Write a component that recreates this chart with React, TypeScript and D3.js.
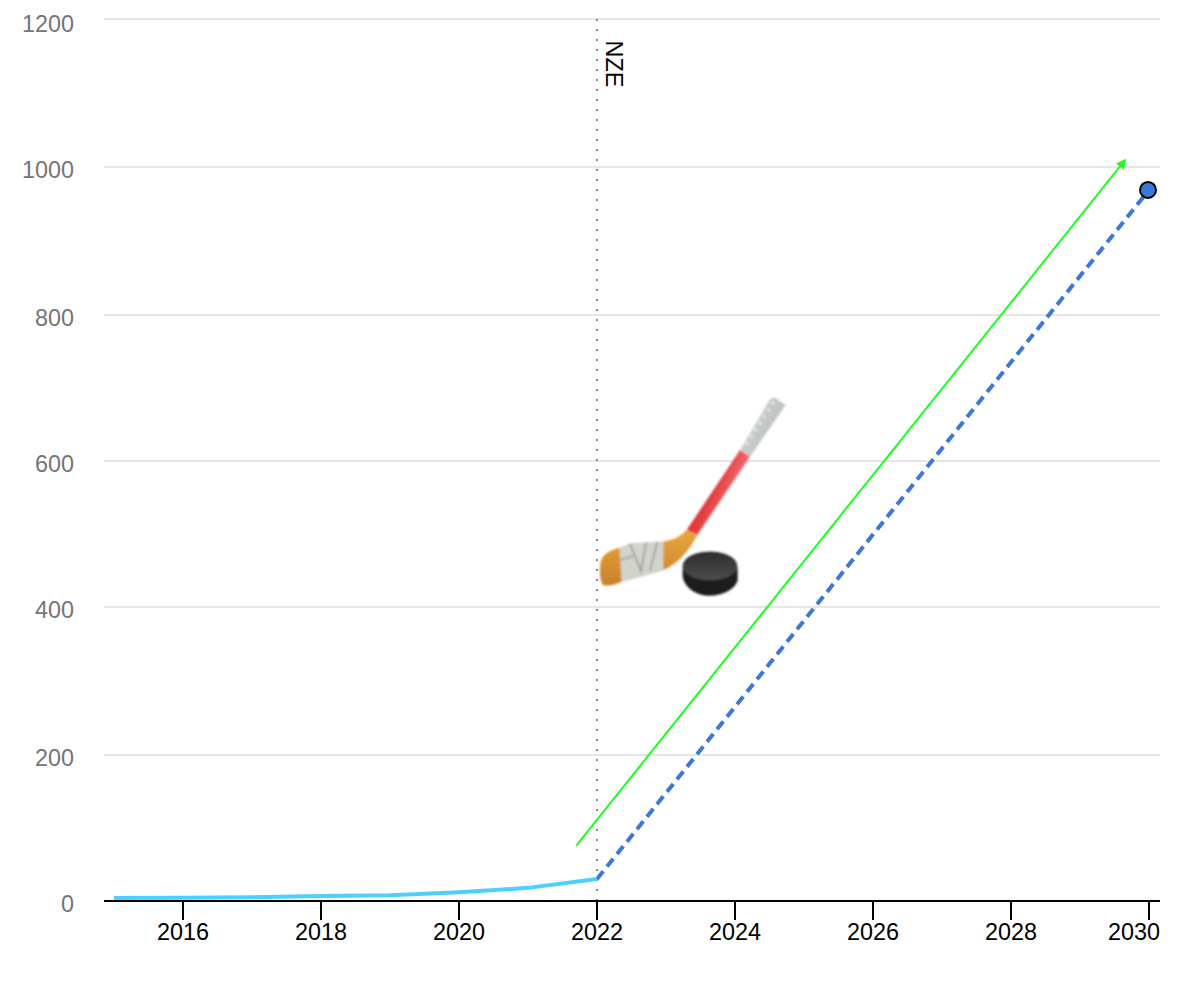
import React from "react";
import * as d3 from "d3";

const historyYears = [2015, 2016, 2017, 2018, 2019, 2020, 2021, 2022];
const historyValues = [4, 4.5, 5, 7, 8, 12, 18, 30];
const projectionYears = [2022, 2030];
const projectionValues = [30, 969];
const arrowYears = [2021.7, 2029.65];
const arrowValues = [76, 1009];
const yTicks = [0, 200, 400, 600, 800, 1000, 1200];
const xTicks = [2016, 2018, 2020, 2022, 2024, 2026, 2028, 2030];
const markerLabel = "NZE";
const markerYear = 2022;

const FONT = "'Liberation Sans', Arial, sans-serif";

const x = d3.scaleLinear().domain([2015, 2030]).range([114, 1149]);
const y = d3.scaleLinear().domain(yTicks).range([901, 755, 607, 461, 315, 167, 19]);
const line = d3.line<[number, number]>().x((d) => x(d[0])).y((d) => y(d[1]));
const zip = (a: number[], b: number[]) => a.map((v, i) => [v, b[i]] as [number, number]);

const gripRidges = d3.range(0, 7);

function HockeyEmoji({ tx, ty }: { tx: number; ty: number }) {
  return (
    <g transform={`translate(${tx},${ty}) scale(${1 / 3})`} filter="url(#soft)">
      {/* grip */}
      <path d="M510,210 L600,58 Q612,48 622,58 L647,75 L540,230 Z" fill="url(#grip)" />
      {gripRidges.map((i) => (
        <path
          key={i}
          d={`M${526 + i * 13},${186 - i * 20} l10,7`}
          stroke="#f0f0f0"
          strokeWidth={5}
          fill="none"
        />
      ))}
      {/* red shaft */}
      <path d="M510,210 L540,230 L382,465 L350,450 Z" fill="url(#shaft)" />
      {/* blade */}
      <path
        d="M350,450 L382,465 Q340,545 280,570 L155,605 Q115,622 98,614 Q85,590 92,545 Q100,515 148,503 L280,485 Q325,478 350,450 Z"
        fill="url(#wood)"
      />
      {/* tape */}
      <path d="M148,503 L180,490 L280,484 L280,572 L155,606 Z" fill="#d3d3cd" />
      <path
        d="M180,492 L215,578 M228,488 L212,580 M262,486 L240,572 M150,540 L190,528"
        stroke="#9d9d98"
        strokeWidth={5}
        fill="none"
      />
      {/* puck */}
      <path
        d="M338,565 C338,530 380,515 420,515 C465,515 503,535 503,570 L503,600 C495,630 455,647 420,647 C380,647 345,625 338,590 Z"
        fill="#1c1c1c"
      />
      <ellipse cx={420} cy={558} rx={82} ry={43} fill="url(#puck)" />
    </g>
  );
}

export default function App() {
  const xm = x(markerYear);
  const last = xTicks[xTicks.length - 1];
  return (
    <svg width={1200} height={1000} style={{ position: "absolute", left: 0, top: 0, fontFamily: FONT }}>
      <defs>
        <filter id="soft" x="-5%" y="-5%" width="110%" height="110%">
          <feGaussianBlur stdDeviation="2.4" />
        </filter>
        <linearGradient id="shaft" x1="0" y1="0" x2="1" y2="0.6">
          <stop offset="0" stopColor="#d42a2a" />
          <stop offset="0.5" stopColor="#e13a3c" />
          <stop offset="0.75" stopColor="#f0686b" />
          <stop offset="1" stopColor="#e85a5c" />
        </linearGradient>
        <linearGradient id="grip" x1="0" y1="0" x2="1" y2="0.6">
          <stop offset="0" stopColor="#d8dada" />
          <stop offset="1" stopColor="#b8bbbb" />
        </linearGradient>
        <linearGradient id="wood" x1="0" y1="0" x2="0" y2="1">
          <stop offset="0" stopColor="#eaa63e" />
          <stop offset="1" stopColor="#c8812a" />
        </linearGradient>
        <linearGradient id="puck" x1="0" y1="0" x2="0" y2="1">
          <stop offset="0" stopColor="#2e2d2d" />
          <stop offset="1" stopColor="#4c4b4b" />
        </linearGradient>
        <marker id="head" viewBox="0 0 10 10" refX="8" refY="5" markerWidth="5" markerHeight="5" orient="auto">
          <path d="M0,0 L10,5 L0,10 Z" fill="#1eff1e" />
        </marker>
      </defs>

      {yTicks.slice(1).map((t) => (
        <line key={t} x1={104} x2={1160} y1={y(t)} y2={y(t)} stroke="#e6e6e6" strokeWidth={2} />
      ))}
      {yTicks.map((t) => (
        <text key={t} x={74} y={Math.max(y(t) + 11, 32)} textAnchor="end" fontSize={23.4} fill="#757575">
          {t}
        </text>
      ))}

      <line x1={xm} x2={xm} y1={y(1200)} y2={y(0)} stroke="#8a8a8a" strokeWidth={2} strokeDasharray="2 8" />
      <text transform={`translate(${xm + 9},40.5) rotate(90)`} fontSize={23.4} fill="#000">
        {markerLabel}
      </text>

      <HockeyEmoji tx={xm - 27} ty={y(600) - 81} />

      <path
        d={line(zip(arrowYears, arrowValues)) ?? ""}
        fill="none"
        stroke="#1eff1e"
        strokeWidth={2}
        markerEnd="url(#head)"
      />
      <path
        d={line(zip(projectionYears, projectionValues)) ?? ""}
        fill="none"
        stroke="#3c78d8"
        strokeWidth={4}
        strokeDasharray="10 6"
      />
      <path
        d={line(zip(historyYears, historyValues)) ?? ""}
        fill="none"
        stroke="#4dd0ff"
        strokeWidth={4}
      />
      <circle
        cx={x(2030) - 1}
        cy={y(projectionValues[1])}
        r={8}
        fill="#3c78d8"
        stroke="#000"
        strokeWidth={2}
      />

      <line x1={104} x2={1160} y1={y(0)} y2={y(0)} stroke="#000" strokeWidth={2} />
      {xTicks.map((t) => (
        <g key={t}>
          <line x1={x(t)} x2={x(t)} y1={y(0)} y2={920} stroke="#000" strokeWidth={2} />
          <text
            x={t === last ? 1160 : x(t)}
            y={940}
            textAnchor={t === last ? "end" : "middle"}
            fontSize={23.4}
            fill="#000"
          >
            {t}
          </text>
        </g>
      ))}
    </svg>
  );
}
